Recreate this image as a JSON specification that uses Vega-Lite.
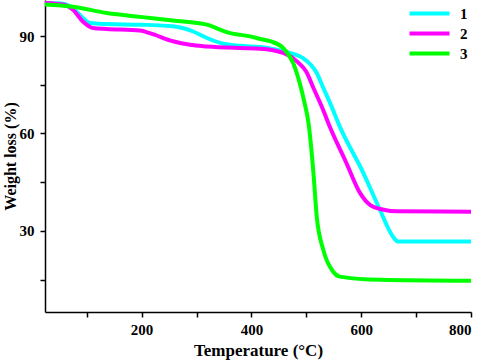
{
  "$schema": "https://vega.github.io/schema/vega-lite/v6.json",
  "width": 426,
  "height": 312,
  "autosize": "none",
  "padding": {"left": 45, "top": 0, "right": 11, "bottom": 50},
  "background": "white",
  "config": {
    "view": {"stroke": null},
    "font": "Liberation Serif"
  },
  "data": {
    "values": [
      {"T": 24, "w": 100.2, "s": "1"}, {"T": 51, "w": 100.1, "s": "1"}, {"T": 70, "w": 99.2, "s": "1"}, {"T": 80, "w": 97.8, "s": "1"}, {"T": 93, "w": 95.6, "s": "1"}, {"T": 106, "w": 94.0, "s": "1"}, {"T": 137, "w": 93.7, "s": "1"}, {"T": 197, "w": 93.5, "s": "1"}, {"T": 257, "w": 93.0, "s": "1"}, {"T": 294, "w": 91.4, "s": "1"}, {"T": 319, "w": 89.4, "s": "1"}, {"T": 343, "w": 87.9, "s": "1"}, {"T": 379, "w": 87.0, "s": "1"}, {"T": 416, "w": 86.6, "s": "1"}, {"T": 458, "w": 85.3, "s": "1"}, {"T": 494, "w": 83.2, "s": "1"}, {"T": 519, "w": 78.6, "s": "1"}, {"T": 531, "w": 74.0, "s": "1"}, {"T": 543, "w": 69.5, "s": "1"}, {"T": 561, "w": 62.1, "s": "1"}, {"T": 604, "w": 47.8, "s": "1"}, {"T": 634, "w": 36.5, "s": "1"}, {"T": 658, "w": 28.2, "s": "1"}, {"T": 667, "w": 26.7, "s": "1"}, {"T": 700, "w": 26.7, "s": "1"}, {"T": 800, "w": 26.7, "s": "1"},
      {"T": 24, "w": 100.2, "s": "2"}, {"T": 57, "w": 99.7, "s": "2"}, {"T": 75, "w": 98.1, "s": "2"}, {"T": 93, "w": 94.5, "s": "2"}, {"T": 111, "w": 92.5, "s": "2"}, {"T": 137, "w": 92.2, "s": "2"}, {"T": 197, "w": 91.7, "s": "2"}, {"T": 215, "w": 90.9, "s": "2"}, {"T": 257, "w": 88.4, "s": "2"}, {"T": 288, "w": 87.3, "s": "2"}, {"T": 319, "w": 86.8, "s": "2"}, {"T": 379, "w": 86.3, "s": "2"}, {"T": 416, "w": 86.1, "s": "2"}, {"T": 458, "w": 84.8, "s": "2"}, {"T": 483, "w": 82.2, "s": "2"}, {"T": 500, "w": 79.0, "s": "2"}, {"T": 513, "w": 74.0, "s": "2"}, {"T": 530, "w": 67.5, "s": "2"}, {"T": 543, "w": 62.0, "s": "2"}, {"T": 573, "w": 50.9, "s": "2"}, {"T": 598, "w": 41.6, "s": "2"}, {"T": 616, "w": 38.0, "s": "2"}, {"T": 641, "w": 36.5, "s": "2"}, {"T": 665, "w": 36.0, "s": "2"}, {"T": 800, "w": 35.9, "s": "2"},
      {"T": 24, "w": 99.7, "s": "3"}, {"T": 75, "w": 99.0, "s": "3"}, {"T": 137, "w": 97.1, "s": "3"}, {"T": 197, "w": 95.9, "s": "3"}, {"T": 257, "w": 94.8, "s": "3"}, {"T": 319, "w": 93.5, "s": "3"}, {"T": 343, "w": 92.0, "s": "3"}, {"T": 355, "w": 91.2, "s": "3"}, {"T": 397, "w": 89.9, "s": "3"}, {"T": 416, "w": 89.1, "s": "3"}, {"T": 434, "w": 88.4, "s": "3"}, {"T": 458, "w": 86.3, "s": "3"}, {"T": 476, "w": 81.7, "s": "3"}, {"T": 488, "w": 75.5, "s": "3"}, {"T": 496, "w": 70.0, "s": "3"}, {"T": 504, "w": 63.2, "s": "3"}, {"T": 513, "w": 47.8, "s": "3"}, {"T": 519, "w": 34.4, "s": "3"}, {"T": 531, "w": 24.1, "s": "3"}, {"T": 549, "w": 17.4, "s": "3"}, {"T": 561, "w": 15.9, "s": "3"}, {"T": 634, "w": 14.9, "s": "3"}, {"T": 800, "w": 14.6, "s": "3"}
    ]
  },
  "mark": {"type": "line", "strokeWidth": 4, "interpolate": "monotone", "clip": true},
  "encoding": {
    "x": {
      "field": "T", "type": "quantitative",
      "scale": {"domain": [24, 800], "nice": false, "zero": false},
      "axis": {
        "values": [100, 200, 300, 400, 500, 600, 700, 800],
        "labelExpr": "datum.value % 200 == 0 ? datum.label : ''",
        "title": "Temperature (°C)",
        "grid": false,
        "domainColor": "black", "domainWidth": 1.5,
        "tickColor": "black", "tickWidth": 1.5, "tickSize": 5,
        "labelFont": "Liberation Serif", "labelFontWeight": "bold", "labelFontSize": 15, "labelColor": "black", "labelPadding": 5,
        "titleFont": "Liberation Serif", "titleFontWeight": "bold", "titleFontSize": 17, "titleColor": "black", "titlePadding": 5
      }
    },
    "y": {
      "field": "w", "type": "quantitative",
      "scale": {"domain": [5, 101.1], "nice": false, "zero": false},
      "axis": {
        "values": [15, 30, 45, 60, 75, 90],
        "labelExpr": "datum.value % 30 == 0 ? datum.label : ''",
        "title": "Weight loss (%)",
        "grid": false,
        "domainColor": "black", "domainWidth": 1.5,
        "tickColor": "black", "tickWidth": 1.5, "tickSize": 5,
        "labelFont": "Liberation Serif", "labelFontWeight": "bold", "labelFontSize": 15, "labelColor": "black", "labelPadding": 6,
        "titleFont": "Liberation Serif", "titleFontWeight": "bold", "titleFontSize": 16, "titleColor": "black", "titlePadding": 1
      }
    },
    "color": {
      "field": "s", "type": "nominal",
      "scale": {"domain": ["1", "2", "3"], "range": ["#00FFFF", "#FF00FF", "#00FF00"]},
      "legend": {
        "title": null,
        "orient": "none",
        "legendX": 377,
        "legendY": 6,
        "symbolType": "M-4,0H4",
        "symbolSize": 100,
        "symbolStrokeWidth": 4,
        "rowPadding": 3,
        "labelFont": "Liberation Serif", "labelFontWeight": "bold", "labelFontSize": 15, "labelColor": "black", "labelOffset": 23
      }
    }
  }
}
